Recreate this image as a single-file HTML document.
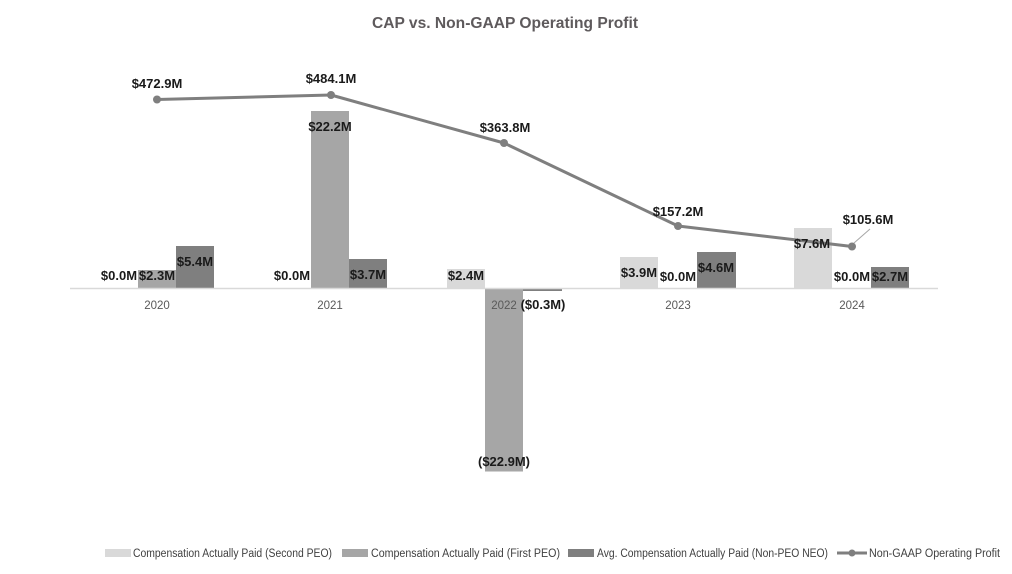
<!DOCTYPE html>
<html>
<head>
<meta charset="utf-8">
<style>
  html, body { margin: 0; padding: 0; background: #ffffff; }
  svg { display: block; }
  .lbl { font-family: "Liberation Sans", sans-serif; font-weight: bold; font-size: 13px; fill: #1a1a1a; text-anchor: middle; }
  .tick { font-family: "Liberation Sans", sans-serif; font-size: 11.5px; fill: #595959; text-anchor: middle; }
  .leg { font-family: "Liberation Sans", sans-serif; font-size: 11.5px; fill: #404040; }
</style>
</head>
<body>
<svg width="1012" height="574" viewBox="0 0 1012 574" xmlns="http://www.w3.org/2000/svg">
  <rect width="1012" height="574" fill="#ffffff"/>
  <!-- Title -->
  <text x="505" y="28" text-anchor="middle" font-family="Liberation Sans, sans-serif" font-weight="bold" font-size="16" fill="#5e5a5c" textLength="266" lengthAdjust="spacingAndGlyphs">CAP vs. Non-GAAP Operating Profit</text>

  <!-- Bars (zero at y=288.5, ~7.95 px per $M) -->
  <!-- 2020 -->
  <rect x="138" y="270" width="38" height="18.5" fill="#a6a6a6"/>
  <rect x="176" y="246" width="38" height="42.5" fill="#7f7f7f"/>
  <!-- 2021 -->
  <rect x="311" y="111" width="38" height="177.5" fill="#a6a6a6"/>
  <rect x="349" y="259" width="38" height="29.5" fill="#7f7f7f"/>
  <!-- 2022 -->
  <rect x="447" y="269" width="38" height="19.5" fill="#d9d9d9"/>
  <rect x="485" y="288.5" width="38" height="183" fill="#a6a6a6"/>
  <rect x="523" y="288.5" width="39" height="2.5" fill="#7f7f7f"/>
  <!-- 2023 -->
  <rect x="620" y="257" width="38" height="31.5" fill="#d9d9d9"/>
  <rect x="697" y="252" width="39" height="36.5" fill="#7f7f7f"/>
  <!-- 2024 -->
  <rect x="794" y="228" width="38" height="60.5" fill="#d9d9d9"/>
  <rect x="871" y="267" width="38" height="21.5" fill="#7f7f7f"/>

  <!-- Axis -->
  <line x1="70" y1="288.5" x2="938" y2="288.5" stroke="#d9d9d9" stroke-width="1.5"/>

  <!-- Tick labels -->
  <text class="tick" x="157" y="309">2020</text>
  <text class="tick" x="330" y="309">2021</text>
  <text class="tick" x="504" y="309">2022</text>
  <text class="tick" x="678" y="309">2023</text>
  <text class="tick" x="852" y="309">2024</text>

  <!-- Line series -->
  <polyline points="157,99.5 331,95 504,143 678,226 852,246.5" fill="none" stroke="#7f7f7f" stroke-width="3" stroke-linejoin="round"/>
  <circle cx="157" cy="99.5" r="4" fill="#7f7f7f"/>
  <circle cx="331" cy="95" r="4" fill="#7f7f7f"/>
  <circle cx="504" cy="143" r="4" fill="#7f7f7f"/>
  <circle cx="678" cy="226" r="4" fill="#7f7f7f"/>
  <circle cx="852" cy="246.5" r="4" fill="#7f7f7f"/>
  <line x1="854" y1="243" x2="870" y2="229" stroke="#a6a6a6" stroke-width="1"/>

  <!-- Line labels -->
  <text class="lbl" x="157" y="88">$472.9M</text>
  <text class="lbl" x="331" y="83">$484.1M</text>
  <text class="lbl" x="505" y="132">$363.8M</text>
  <text class="lbl" x="678" y="216">$157.2M</text>
  <text class="lbl" x="868" y="224">$105.6M</text>

  <!-- Bar labels -->
  <text class="lbl" x="119" y="280">$0.0M</text>
  <text class="lbl" x="157" y="280">$2.3M</text>
  <text class="lbl" x="195" y="266">$5.4M</text>

  <text class="lbl" x="292" y="280">$0.0M</text>
  <text class="lbl" x="330" y="131">$22.2M</text>
  <text class="lbl" x="368" y="279">$3.7M</text>

  <text class="lbl" x="466" y="280">$2.4M</text>
  <text class="lbl" x="504" y="466">($22.9M)</text>
  <text class="lbl" x="543" y="309">($0.3M)</text>

  <text class="lbl" x="639" y="277">$3.9M</text>
  <text class="lbl" x="678" y="281">$0.0M</text>
  <text class="lbl" x="716" y="272">$4.6M</text>

  <text class="lbl" x="812" y="248">$7.6M</text>
  <text class="lbl" x="852" y="281">$0.0M</text>
  <text class="lbl" x="890" y="281">$2.7M</text>

  <!-- Legend -->
  <rect x="105" y="549" width="26" height="8" fill="#d9d9d9"/>
  <text class="leg" x="133" y="557" textLength="199" lengthAdjust="spacingAndGlyphs">Compensation Actually Paid (Second PEO)</text>
  <rect x="342" y="549" width="26" height="8" fill="#a6a6a6"/>
  <text class="leg" x="371" y="557" textLength="189" lengthAdjust="spacingAndGlyphs">Compensation Actually Paid (First PEO)</text>
  <rect x="568" y="549" width="26" height="8" fill="#7f7f7f"/>
  <text class="leg" x="597" y="557" textLength="231" lengthAdjust="spacingAndGlyphs">Avg. Compensation Actually Paid (Non-PEO NEO)</text>
  <line x1="837" y1="553" x2="867" y2="553" stroke="#7f7f7f" stroke-width="3"/>
  <circle cx="852" cy="553" r="3.5" fill="#7f7f7f"/>
  <text class="leg" x="869" y="557" textLength="131" lengthAdjust="spacingAndGlyphs">Non-GAAP Operating Profit</text>
</svg>
</body>
</html>
